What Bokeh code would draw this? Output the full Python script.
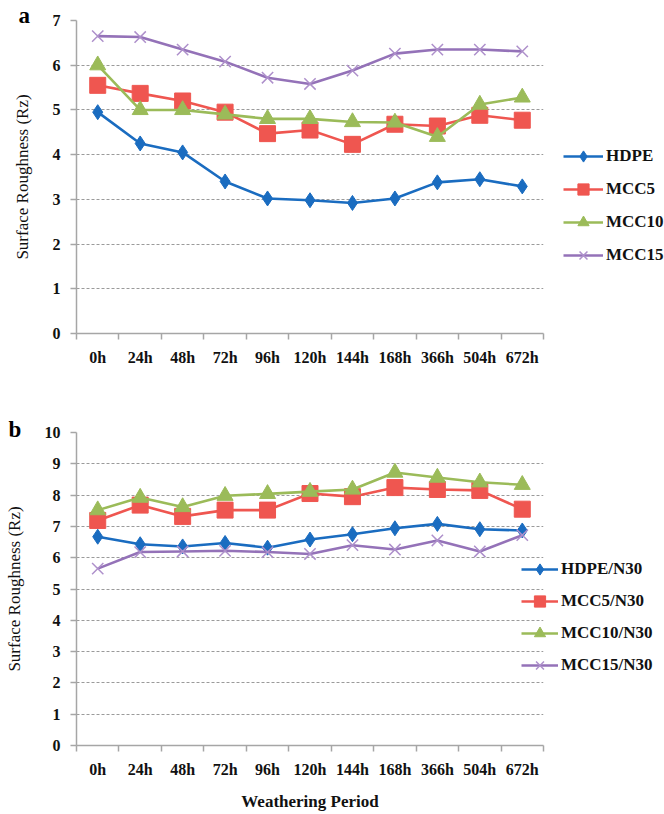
from bokeh.plotting import figure
from bokeh.models import FixedTicker, Legend, LegendItem, Range1d, Title
from bokeh.layouts import column
from bokeh.embed import file_html
from bokeh.resources import INLINE

# ---------------- data ----------------
periods = ["0h", "24h", "48h", "72h", "96h", "120h", "144h", "168h", "366h", "504h", "672h"]

# panel a
a_names = ["HDPE", "MCC5", "MCC10", "MCC15"]
a_hdpe = [4.95, 4.25, 4.05, 3.40, 3.02, 2.98, 2.92, 3.02, 3.38, 3.45, 3.29]
a_mcc5 = [5.55, 5.37, 5.20, 4.95, 4.47, 4.55, 4.23, 4.68, 4.64, 4.88, 4.77]
a_mcc10 = [6.00, 5.00, 5.00, 4.90, 4.80, 4.80, 4.73, 4.72, 4.40, 5.12, 5.28]
a_mcc15 = [6.65, 6.63, 6.35, 6.08, 5.72, 5.58, 5.88, 6.26, 6.35, 6.35, 6.31]
a_yticks = [0, 1, 2, 3, 4, 5, 6, 7]

# panel b
b_names = ["HDPE/N30", "MCC5/N30", "MCC10/N30", "MCC15/N30"]
b_hdpe = [6.67, 6.43, 6.36, 6.47, 6.32, 6.58, 6.75, 6.94, 7.08, 6.91, 6.87]
b_mcc5 = [7.19, 7.68, 7.32, 7.52, 7.52, 8.05, 7.95, 8.24, 8.18, 8.15, 7.55]
b_mcc10 = [7.52, 7.92, 7.62, 7.98, 8.04, 8.11, 8.18, 8.72, 8.56, 8.41, 8.33]
b_mcc15 = [5.65, 6.18, 6.20, 6.22, 6.18, 6.12, 6.40, 6.26, 6.55, 6.20, 6.72]
b_yticks = [0, 1, 2, 3, 4, 5, 6, 7, 8, 9, 10]

y_label = "Surface Roughness (Rz)"
x_label = "Weathering Period"

# ---------------- styling ----------------
SERIF = "'Liberation Serif', serif"
line_colors = ["#1a6cc0", "#ef5650", "#9bbb59", "#9472b8"]
marker_colors = ["#1a6cc0", "#ef5650", "#9bbb59", "#ae90cb"]
markers = ["diamond", "square", "triangle", "x"]
marker_sizes = [15, 16, 16, 16]
AXIS_GRAY = "#a6a6a6"

xs = [i + 0.5 for i in range(len(periods))]


def make_panel(width, border_left, border_top, border_bottom, ymax, yticks,
               names, series, letter, letter_offset, letter_standoff, legend_xy,
               legend_glyph_w, legend_spacing, with_xlabel):
    p = figure(frame_width=467, frame_height=313, output_backend="svg", toolbar_location=None,
               x_range=Range1d(0, len(periods)), y_range=Range1d(0, ymax),
               min_border_left=border_left, min_border_top=border_top,
               min_border_bottom=border_bottom,
               min_border_right=width - border_left - 467)
    p.outline_line_color = None
    p.background_fill_color = "white"
    p.border_fill_color = "white"

    # x axis: labels at centres, tick marks between categories
    p.xaxis.ticker = FixedTicker(ticks=xs, minor_ticks=list(range(len(periods) + 1)))
    p.xaxis.major_label_overrides = {x: lab for x, lab in zip(xs, periods)}
    p.xaxis.major_tick_out = 0
    p.xaxis.major_tick_in = 0
    p.xaxis.minor_tick_out = 6
    p.xaxis.minor_tick_in = 0
    p.xaxis.minor_tick_line_color = AXIS_GRAY
    p.xaxis.minor_tick_line_width = 1.5
    p.xaxis.axis_line_color = AXIS_GRAY
    p.xaxis.axis_line_width = 1.5
    p.xaxis.major_label_text_font = SERIF
    p.xaxis.major_label_text_font_style = "bold"
    p.xaxis.major_label_text_font_size = "16px"
    p.xaxis.major_label_text_color = "#111111"
    p.xaxis.major_label_standoff = 9

    if with_xlabel:
        p.xaxis.axis_label = x_label
        p.xaxis.axis_label_text_font = SERIF
        p.xaxis.axis_label_text_font_style = "bold"
        p.xaxis.axis_label_text_font_size = "17px"
        p.xaxis.axis_label_text_color = "#111111"
        p.xaxis.axis_label_standoff = 11

    # y axis
    p.yaxis.ticker = FixedTicker(ticks=yticks)
    p.yaxis.major_tick_out = 6
    p.yaxis.major_tick_in = 0
    p.yaxis.minor_tick_line_color = None
    p.yaxis.major_tick_line_color = AXIS_GRAY
    p.yaxis.major_tick_line_width = 1.5
    p.yaxis.axis_line_color = AXIS_GRAY
    p.yaxis.axis_line_width = 1.5
    p.yaxis.major_label_text_font = SERIF
    p.yaxis.major_label_text_font_style = "bold"
    p.yaxis.major_label_text_font_size = "16px"
    p.yaxis.major_label_text_color = "#111111"
    p.yaxis.major_label_standoff = 10
    p.yaxis.axis_label = y_label
    p.yaxis.axis_label_text_font = SERIF
    p.yaxis.axis_label_text_font_style = "normal"
    p.yaxis.axis_label_text_font_size = "17px"
    p.yaxis.axis_label_text_color = "#111111"
    p.yaxis.axis_label_standoff = 18

    p.xgrid.grid_line_color = None
    p.ygrid.ticker = FixedTicker(ticks=yticks[1:])
    p.ygrid.grid_line_color = "#9a9a9a"
    p.ygrid.grid_line_dash = "3 2"
    p.ygrid.grid_line_width = 1

    items = []
    for k, (name, ys) in enumerate(zip(names, series)):
        r1 = p.line(xs, ys, line_color=line_colors[k], line_width=2.6)
        r2 = p.scatter(xs, ys, marker=markers[k], size=marker_sizes[k],
                       fill_color=marker_colors[k], line_color=marker_colors[k],
                       line_width=1.5 if markers[k] == "x" else 1)
        items.append(LegendItem(label=name, renderers=[r1, r2]))

    legend = Legend(items=items, location=legend_xy, orientation="vertical",
                    glyph_width=legend_glyph_w, glyph_height=28, spacing=legend_spacing,
                    label_standoff=3, padding=0, margin=0,
                    border_line_color=None, background_fill_alpha=0,
                    label_text_font=SERIF, label_text_font_style="bold",
                    label_text_font_size="17px", label_text_color="#111111")
    p.add_layout(legend, "right")

    p.add_layout(Title(text=letter, align="left", offset=letter_offset,
                       standoff=letter_standoff,
                       text_font=SERIF, text_font_style="bold",
                       text_font_size="23px", text_color="#000000"), "above")
    return p


pa = make_panel(660, 76, 20, 60, 7, a_yticks, a_names,
                [a_hdpe, a_mcc5, a_mcc10, a_mcc15], "a", -58, -15,
                (20, 64), 40, 5, False)
pb = make_panel(660, 72, 39, 69, 10, b_yticks, b_names,
                [b_hdpe, b_mcc5, b_mcc10, b_mcc15], "b", -68, -18,
                (-22, 66), 37, 4, True)

layout = column(pa, pb, spacing=0)
open("out.html", "w").write(file_html(layout, INLINE))
